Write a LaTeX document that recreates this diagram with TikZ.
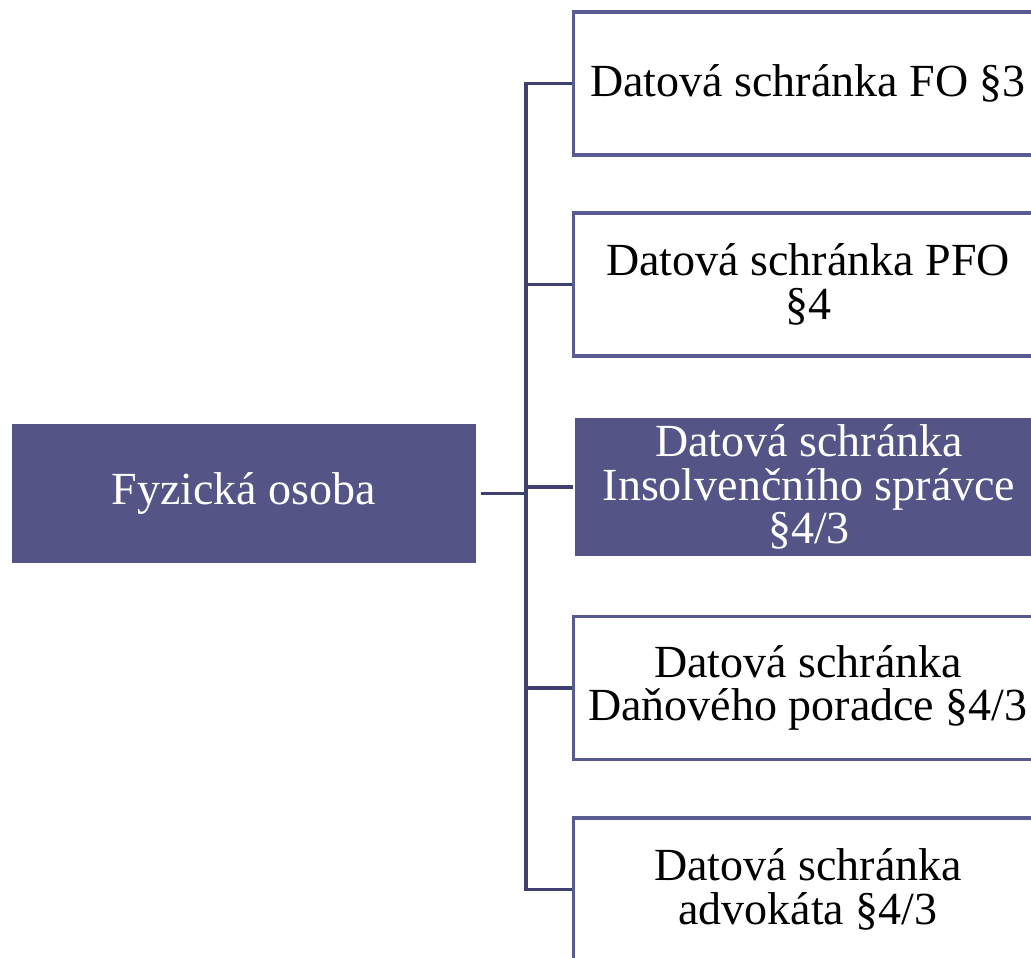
\documentclass[tikz,border=0pt]{standalone}
\usepackage{fontspec}
\setmainfont{Liberation Serif}
\definecolor{boxfill}{RGB}{84,84,134}
\definecolor{boxline}{RGB}{90,90,146}
\definecolor{connline}{RGB}{64,64,112}
\begin{document}
\begin{tikzpicture}[x=0.75pt,y=-0.75pt,
  childbox/.style={draw=boxline,line width=2.7pt,fill=white,minimum width=352pt,minimum height=107pt,
    inner sep=0pt,align=center,font=\fontsize{34.5}{32.5}\selectfont,text=black},
  filledbox/.style={fill=boxfill,draw=none,minimum width=351pt,minimum height=103.5pt,
    inner sep=0pt,align=center,font=\fontsize{34.5}{32.5}\selectfont,text=white},
  conn/.style={draw=connline,line width=2.7pt}]
\useasboundingbox (0,0) rectangle (1031,957);
\clip (0,0) rectangle (1031,957);
\node[fill=boxfill,minimum width=348pt,minimum height=104pt,inner sep=0pt,text=white,
  font=\fontsize{34.5}{32.5}\selectfont] (lb) at (244,493.5) {Fyzická osoba};
\node[childbox] (b1) at (808,83.5) {Datová schránka FO §3};
\node[childbox] (b2) at (808,284.5) {Datová schránka PFO\\§4};
\node[filledbox] (b3) at (809,487) {Datová schránka\\Insolvenčního správce\\§4/3};
\node[childbox] (b4) at (808,688) {Datová schránka\\Daňového poradce §4/3};
\node[childbox] (b5) at (808,889.5) {Datová schránka\\advokáta §4/3};
\coordinate (bus) at (526,0);
\draw[conn] ([xshift=3.75pt]lb.east) -- (lb.east -| bus);
\draw[conn] (b1.west) -- (b1.west -| bus) -- (b5.west -| bus) -- (b5.west);
\draw[conn] (b2.west) -- (b2.west -| bus);
\draw[conn] ([xshift=-1.5pt]b3.west) -- (b3.west -| bus);
\draw[conn] (b4.west) -- (b4.west -| bus);
\end{tikzpicture}
\end{document}
